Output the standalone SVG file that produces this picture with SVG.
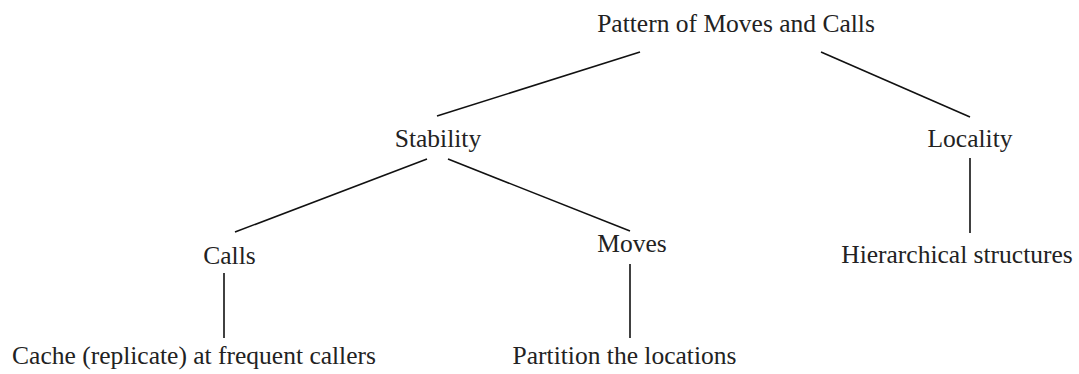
<svg xmlns="http://www.w3.org/2000/svg" width="1079" height="374" viewBox="0 0 1079 374">
<style>
.t{font-family:"Liberation Serif","Times New Roman",serif;font-size:25.5px;fill:#222;text-anchor:middle}
.c{stroke:#111;stroke-width:1.6;fill:none}
</style>
<rect width="1079" height="374" fill="#fff"/>
<g id="connectors">
<line class="c" x1="640" y1="52" x2="437" y2="116"/>
<line class="c" x1="821" y1="52" x2="970" y2="117"/>
<line class="c" x1="427" y1="159" x2="235" y2="232"/>
<line class="c" x1="448" y1="159" x2="630" y2="231"/>
<line class="c" x1="970" y1="158" x2="970" y2="233"/>
<line class="c" x1="224" y1="273" x2="224" y2="338"/>
<line class="c" x1="630" y1="264" x2="630" y2="338"/>
</g>
<g id="n-root"><text class="t" x="736" y="32">Pattern of Moves and Calls</text></g>
<g id="n-stability"><text class="t" x="438" y="147">Stability</text></g>
<g id="n-locality"><text class="t" x="970" y="147">Locality</text></g>
<g id="n-calls"><text class="t" x="229.5" y="264">Calls</text></g>
<g id="n-moves"><text class="t" x="632" y="252">Moves</text></g>
<g id="n-hier"><text class="t" x="957" y="263">Hierarchical structures</text></g>
<g id="n-cache"><text class="t" x="194" y="364">Cache (replicate) at frequent callers</text></g>
<g id="n-partition"><text class="t" x="624.5" y="364">Partition the locations</text></g>
</svg>
